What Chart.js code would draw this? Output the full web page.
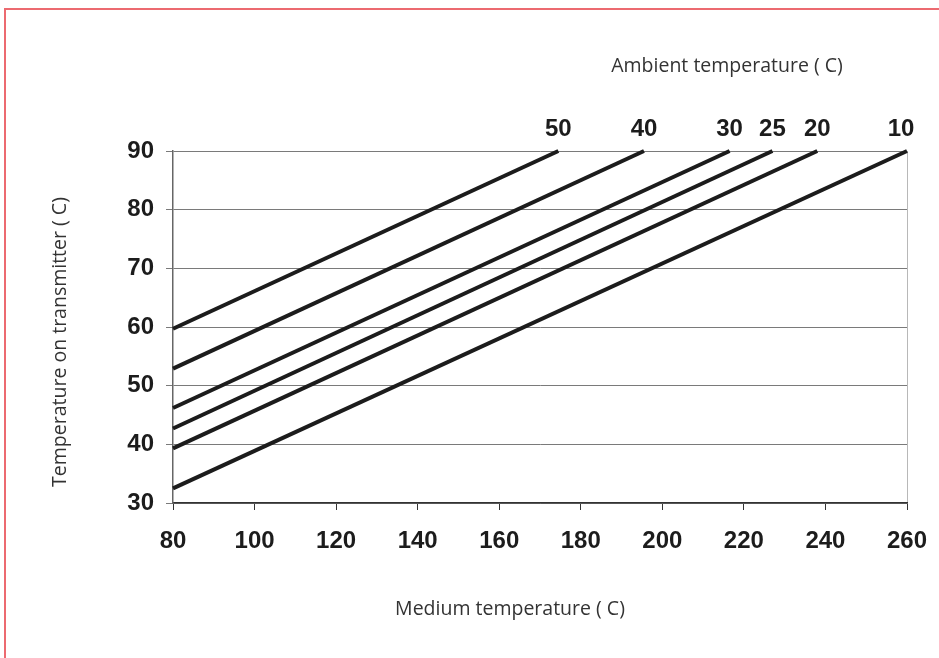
<!DOCTYPE html>
<html>
<head>
<meta charset="utf-8">
<script src="https://cdn.jsdelivr.net/npm/chart.js@4.4.2/dist/chart.umd.min.js"></script>
<style>
  html, body { margin: 0; padding: 0; background: #fff; }
  #wrap { position: relative; width: 939px; height: 658px; }
  #frame { position: absolute; left: 4px; top: 8px; right: -4px; bottom: -10px; border-top: 2px solid #ec6a70; border-left: 2px solid #ec6a70; pointer-events: none; }
  canvas { position: absolute; left: 0; top: 0; }
</style>
</head>
<body>
<div id="wrap">
  <canvas id="chart" width="939" height="658"></canvas>
  <div id="frame"></div>
</div>
<script>
// ambient temperature curves: start value at medium 80, medium value where they reach 90
const ambientLabels = ['50', '40', '30', '25', '20', '10'];
const startTemps = [59.7, 52.9, 46.2, 42.7, 39.3, 32.5];
const endMediums = [174.5, 195.5, 216.5, 227, 238, 260];
const xTicks = [80, 100, 120, 140, 160, 180, 200, 220, 240, 260];
const yTicks = [30, 40, 50, 60, 70, 80, 90];

const tickFont = { family: "'Liberation Sans', Arial, sans-serif", size: 24, weight: 'bold' };
const titleFont = "19.5px 'Open Sans', 'Noto Sans', sans-serif";

const datasets = ambientLabels.map((lab, i) => ({
    label: lab,
    data: [{ x: 80, y: startTemps[i] }, { x: endMediums[i], y: 90 }],
    showLine: true,
    borderColor: '#1c1c1c',
    borderWidth: 4,
    pointRadius: 0,
    tension: 0,
    clip: 4
}));

const labelsPlugin = {
    id: 'texts',
    afterDraw(chart) {
        const { ctx, scales } = chart;
        ctx.save();
        ctx.fillStyle = '#1c1c1c';
        ctx.font = `bold ${tickFont.size}px ${tickFont.family}`;
        ctx.textAlign = 'center';
        ctx.textBaseline = 'middle';
        ambientLabels.forEach((lab, i) => {
            let x = scales.x.getPixelForValue(endMediums[i]);
            if (i === ambientLabels.length - 1) x -= 6;
            ctx.fillText(lab, x, 129);
        });
        ctx.fillStyle = '#333';
        ctx.font = titleFont;
        ctx.fillText('Ambient temperature ( C)', 727, 66);
        ctx.fillText('Medium temperature ( C)', 510, 609);
        ctx.translate(60, 342);
        ctx.rotate(-Math.PI / 2);
        ctx.fillText('Temperature on transmitter ( C)', 0, 0);
        ctx.restore();
    }
};

new Chart(document.getElementById('chart'), {
    type: 'scatter',
    data: { datasets },
    options: {
        responsive: false,
        animation: false,
        layout: { padding: { top: 151, right: 32, left: 0, bottom: 0 } },
        plugins: { legend: { display: false }, tooltip: { enabled: false } },
        scales: {
            x: {
                type: 'linear',
                min: 80,
                max: 260,
                afterBuildTicks: s => { s.ticks = xTicks.map(v => ({ value: v })); },
                afterFit: s => { s.height = 155; s.paddingLeft = 0; s.paddingRight = 0; },
                border: { color: '#333', width: 1.5 },
                grid: {
                    drawOnChartArea: true,
                    color: c => c.tick && c.tick.value === 260 ? '#b8b8b8' : 'rgba(0,0,0,0)',
                    tickColor: '#333',
                    tickLength: 7
                },
                ticks: { color: '#1c1c1c', font: tickFont, padding: 17, maxRotation: 0 }
            },
            y: {
                min: 30,
                max: 90,
                afterBuildTicks: s => { s.ticks = yTicks.map(v => ({ value: v })); },
                afterFit: s => { s.width = 173; s.paddingTop = 0; s.paddingBottom = 0; },
                border: { color: '#666', width: 1.5 },
                grid: { color: '#7a7a7a', lineWidth: 1, tickColor: '#7a7a7a', tickLength: 7 },
                ticks: { color: '#1c1c1c', font: tickFont, padding: 12 }
            }
        }
    },
    plugins: [labelsPlugin]
});
</script>
</body>
</html>
